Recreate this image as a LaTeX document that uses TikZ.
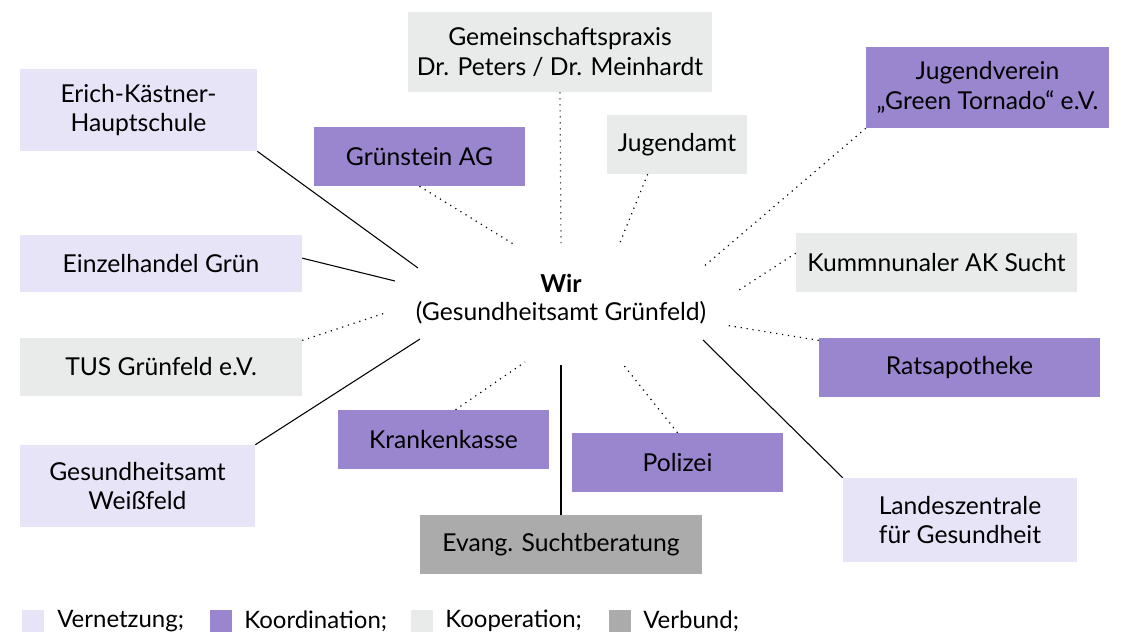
\documentclass[tikz,border=0pt]{standalone}
\usepackage{fontspec}
\setmainfont{Lato}
\definecolor{vernetzung}{HTML}{E8E4F7}
\definecolor{koordination}{HTML}{9A86CF}
\definecolor{kooperation}{HTML}{E9EAEA}
\definecolor{verbund}{HTML}{ABABAB}
\tikzset{
  partner/.style={rectangle, align=center, inner sep=0pt, font=\fontsize{18.5}{22}\selectfont},
  netz/.style={partner, fill=vernetzung},
  koord/.style={partner, fill=koordination},
  koop/.style={partner, fill=kooperation},
  verb/.style={partner, fill=verbund},
  solidlink/.style={draw=black, line width=0.8pt},
  dotlink/.style={draw=black, line width=0.9pt, dash pattern=on 0.9pt off 3.6pt},
  legendbox/.style={rectangle, inner sep=0pt, minimum width=17pt, minimum height=17pt},
  legendtext/.style={anchor=west, inner sep=0pt, font=\fontsize{18}{22}\selectfont}
}
\begin{document}
\begin{tikzpicture}[x=0.75pt,y=-0.75pt]
\useasboundingbox (0,0) rectangle (1123,637);
% centre
\node[align=center, inner sep=0pt, font=\fontsize{18.5}{20.5}\selectfont] (wir) at (561,299) {\textbf{Wir}\\(Gesundheitsamt Grünfeld)};
% partners
\node[netz, minimum width=177.75pt, minimum height=61.5pt] (erich) at (138.5,110) {Erich-Kästner-\\Hauptschule};
\node[netz, minimum width=211.5pt, minimum height=42.75pt] (einzel) at (161,263.5) {Einzelhandel Grün};
\node[koop, minimum width=211.5pt, minimum height=43.5pt] (tus) at (161,367) {TUS Grünfeld e.V.};
\node[netz, minimum width=176.25pt, minimum height=61.5pt] (weiss) at (137.5,486) {Gesundheitsamt\\Weißfeld};
\node[koord, minimum width=158.25pt, minimum height=44.25pt] (gruen) at (419.5,156.5) {Grünstein AG};
\node[koop, minimum width=228pt, minimum height=60pt] (praxis) at (560,52) {Gemeinschaftspraxis\\Dr. Peters / Dr. Meinhardt};
\node[koop, minimum width=105pt, minimum height=44.25pt] (jamt) at (677,144.5) {Jugendamt};
\node[koord, minimum width=182.25pt, minimum height=60.75pt] (jverein) at (987.5,87.5) {Jugendverein\\„Green Tornado“ e.V.};
\node[koop, minimum width=210.75pt, minimum height=44.25pt] (aksucht) at (936.5,262.5) {Kummnunaler AK Sucht};
\node[koord, minimum width=210.75pt, minimum height=44.25pt] (rats) at (959.5,367.5) {Ratsapotheke};
\node[netz, minimum width=175.5pt, minimum height=63pt] (landes) at (960,520) {Landeszentrale\\für Gesundheit};
\node[koord, minimum width=158.25pt, minimum height=44.25pt] (kasse) at (443.5,439.5) {Krankenkasse};
\node[koord, minimum width=158.25pt, minimum height=44.25pt] (polizei) at (677.5,462.5) {Polizei};
\node[verb, minimum width=211.5pt, minimum height=44.25pt] (evang) at (561,544.5) {Evang. Suchtberatung};
% inner ends
\coordinate (iErich) at (418,268);
\coordinate (iEinzel) at (395,281);
\coordinate (iTus) at (385,313);
\coordinate (iWeiss) at (420,339);
\coordinate (iGruen) at (515,245);
\coordinate (iPraxis) at (561,243);
\coordinate (iJamt) at (619,245);
\coordinate (iJverein) at (702,268);
\coordinate (iAk) at (736,292);
\coordinate (iRats) at (725,325);
\coordinate (iLandes) at (703,340);
\coordinate (iKasse) at (525,362);
\coordinate (iPolizei) at (622,363);
\coordinate (iEvang) at (561,365);
% connectors
\draw[solidlink] (erich.south east) -- (iErich);
\draw[solidlink] ([yshift=4pt]einzel.east) -- (iEinzel);
\draw[dotlink] ([yshift=-2pt]tus.north east) -- (iTus);
\draw[solidlink] (weiss.north east) -- (iWeiss);
\draw[dotlink] (gruen.south) -- (iGruen);
\draw[dotlink] (praxis.south) -- (iPraxis);
\draw[dotlink] ([xshift=-22pt]jamt.south) -- (iJamt);
\draw[dotlink] (jverein.south west) -- (iJverein);
\draw[dotlink] ([yshift=7pt]aksucht.west) -- (iAk);
\draw[dotlink] ([yshift=-2pt]rats.north west) -- (iRats);
\draw[solidlink] (landes.north west) -- (iLandes);
\draw[dotlink] ([xshift=9pt]kasse.north) -- (iKasse);
\draw[dotlink] (polizei.north) -- (iPolizei);
\draw[solidlink] (evang.north) -- (iEvang);
% legend
\node[legendbox, fill=vernetzung] (lgNetz) at (33,621) {};
\node[legendtext] (lgNetzT) at (57,621) {Vernetzung;};
\node[legendbox, fill=koordination] (lgKoord) at (221,621) {};
\node[legendtext] (lgKoordT) at (244,621) {Koordination;};
\node[legendbox, fill=kooperation] (lgKoop) at (422,621) {};
\node[legendtext] (lgKoopT) at (445,621) {Kooperation;};
\node[legendbox, fill=verbund] (lgVerb) at (620,621) {};
\node[legendtext] (lgVerbT) at (643,621) {Verbund;};
\end{tikzpicture}
\end{document}
